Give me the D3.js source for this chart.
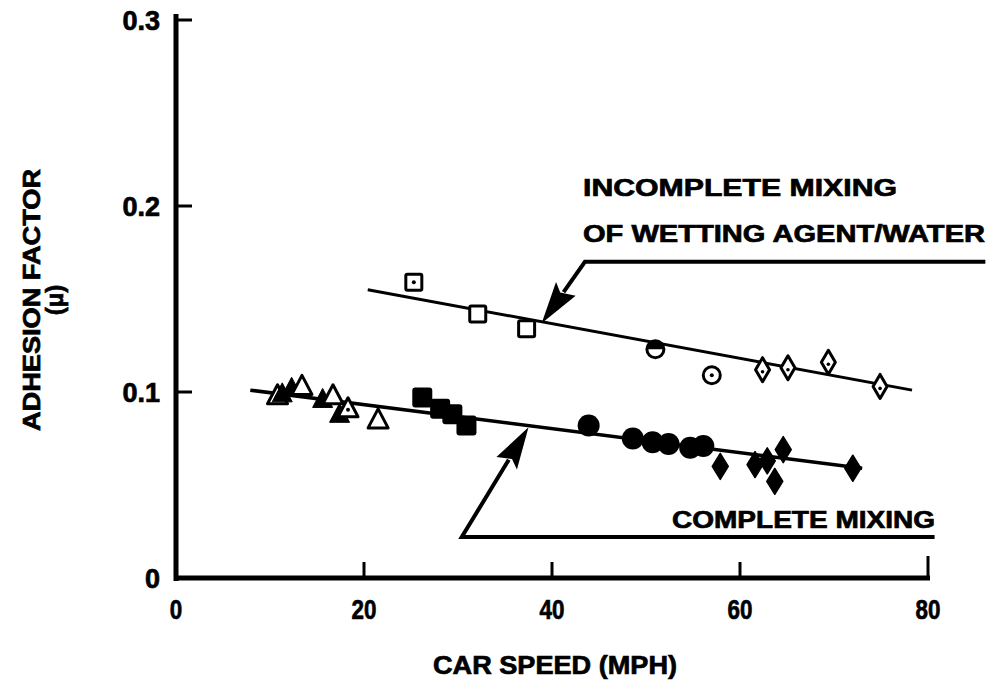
<!DOCTYPE html>
<html><head><meta charset="utf-8">
<script src="https://cdn.jsdelivr.net/npm/d3@7"></script>
<style>body{margin:0;background:#fff}svg{display:block}text{font-family:"Liberation Sans",Arial,sans-serif;font-weight:bold;fill:#000;stroke:#000;stroke-width:0.7px}</style>
</head><body><svg id="c" width="993" height="688"></svg>
<script>
// ---- data ----
const xTicks = [0, 20, 40, 60, 80];
const yTicks = [0, 0.1, 0.2, 0.3];
const yTickLabels = ["0", "0.1", "0.2", "0.3"];
// incomplete mixing (open markers)
const upperSpeed = [25.3, 32.1, 37.3, 51.0, 57.0, 62.4, 65.1, 69.4, 74.9];
const upperMu    = [0.159, 0.142, 0.134, 0.123, 0.109, 0.112, 0.113, 0.116, 0.103];
const upperShape = ["squareDot","square","square","circleHalf","circleDot","diamondDot","diamondDot","diamondDot","diamondDot"];
// complete mixing (mostly filled markers)
const lowerSpeed = [10.8, 11.3, 12.3, 13.4, 15.6, 16.7, 17.4, 18.3, 21.5, 26.2, 28.1, 29.4, 30.9, 43.9, 48.6, 50.7, 52.4, 54.7, 56.1, 57.9, 61.6, 62.9, 63.7, 64.6, 72.0];
const lowerMu    = [0.098, 0.099, 0.102, 0.103, 0.096, 0.098, 0.088, 0.091, 0.085, 0.097, 0.091, 0.088, 0.082, 0.082, 0.075, 0.073, 0.072, 0.070, 0.071, 0.060, 0.061, 0.063, 0.052, 0.069, 0.059];
const lowerShape = ["triDot","tri","tri","triOpen","tri","triOpen","tri","triDot","triOpen","sq","sq","sq","sq","circ","circ","circ","circ","circ","circ","dia","dia","dia","dia","dia","dia"];
// fitted lines
const upperFitSpeed = [20.4, 78.3], upperFitMu = [0.155, 0.101];
const lowerFitSpeed = [7.9, 73.0],  lowerFitMu = [0.101, 0.059];
// annotation leader lines
const upperLeadSpeed = [86.1, 43.5, 38.9], upperLeadMu = [0.170, 0.170, 0.137];
const lowerLeadSpeed = [80.7, 30.4, 37.5], lowerLeadMu = [0.022, 0.022, 0.081];

// ---- scales ----
const svg = d3.select("#c");
const x = d3.scaleLinear().domain([0, 80]).range([176, 928]);
const y = d3.scaleLinear().domain([0, 0.3]).range([578, 20]);

// axes
svg.append("line").attr("x1", x(0)).attr("x2", x(0)).attr("y1", 14).attr("y2", 581).attr("stroke","#000").attr("stroke-width",5);
svg.append("line").attr("x1", x(0)-2).attr("x2", x(80)+2).attr("y1", y(0)).attr("y2", y(0)).attr("stroke","#000").attr("stroke-width",5);
yTicks.slice(1).forEach(t => svg.append("line").attr("x1", x(0)).attr("x2", x(0)+16).attr("y1", y(t)).attr("y2", y(t)).attr("stroke","#000").attr("stroke-width",3));
xTicks.slice(1).forEach(t => svg.append("line").attr("x1", x(t)).attr("x2", x(t)).attr("y1", y(0)).attr("y2", y(0)-(t===80?22:16)).attr("stroke","#000").attr("stroke-width",3));
yTicks.forEach((t,i) => svg.append("text").attr("x", 160).attr("y", y(t)).attr("dy","0.36em").attr("text-anchor","end").attr("font-size",27).text(yTickLabels[i]));
xTicks.forEach(t => svg.append("text").attr("x", x(t)).attr("y", 619).attr("text-anchor","middle").attr("font-size",28).attr("transform",`translate(${x(t)},0) scale(0.8,1) translate(${-x(t)},0)`).text(t));
svg.append("text").attr("x", 555).attr("y", 674).attr("text-anchor","middle").attr("font-size",26).attr("textLength",244).attr("lengthAdjust","spacingAndGlyphs").text("CAR SPEED (MPH)");
svg.append("text").attr("transform","translate(40,300) rotate(-90)").attr("text-anchor","middle").attr("font-size",24).attr("textLength",262).attr("lengthAdjust","spacingAndGlyphs").text("ADHESION FACTOR");
svg.append("text").attr("transform","translate(63,300) rotate(-90)").attr("text-anchor","middle").attr("font-size",24).text("(μ)");

// fit lines
const line = d3.line().x(d => x(d[0])).y(d => y(d[1]));
svg.append("path").attr("d", line(d3.zip(upperFitSpeed, upperFitMu))).attr("stroke","#000").attr("stroke-width",3).attr("fill","none");
svg.append("path").attr("d", line(d3.zip(lowerFitSpeed, lowerFitMu))).attr("stroke","#000").attr("stroke-width",3.5).attr("fill","none");

// markers
function marker(shape, cx, cy) {
  const g = svg.append("g").attr("transform", `translate(${cx},${cy})`);
  const sw = 3;
  if (shape.startsWith("tri")) {
    g.append("path").attr("d","M0,-11L10,8L-10,8Z").attr("fill", shape==="tri"?"#000":"#fff").attr("stroke","#000").attr("stroke-width", shape==="tri"?1:3).attr("stroke-linejoin","round");
    if (shape==="triDot") g.append("circle").attr("r",2).attr("cy",1).attr("fill","#000");
  } else if (shape==="sq" ) {
    g.append("rect").attr("x",-10).attr("y",-10).attr("width",20).attr("height",20).attr("rx",3).attr("fill","#000");
  } else if (shape.startsWith("square")) {
    g.append("rect").attr("x",-8).attr("y",-8).attr("width",16).attr("height",16).attr("rx",1.5).attr("fill","#fff").attr("stroke","#000").attr("stroke-width",sw);
    if (shape==="squareDot") g.append("circle").attr("r",2).attr("fill","#000");
  } else if (shape==="circ") {
    g.append("circle").attr("r",11).attr("fill","#000");
  } else if (shape.startsWith("circle")) {
    g.append("circle").attr("r",8.5).attr("fill","#fff").attr("stroke","#000").attr("stroke-width",sw);
    if (shape==="circleDot") g.append("circle").attr("r",2).attr("fill","#000");
    if (shape==="circleHalf") g.append("path").attr("d","M-8.5,0A8.5,8.5 0 0 1 8.5,0Z").attr("fill","#000");
  } else if (shape==="dia") {
    g.append("path").attr("d","M0,-13L8,0L0,13L-8,0Z").attr("fill","#000").attr("stroke","#000").attr("stroke-width",1.5).attr("stroke-linejoin","round");
  } else if (shape.startsWith("diamond")) {
    g.append("path").attr("d","M0,-12L7,0L0,12L-7,0Z").attr("fill","#fff").attr("stroke","#000").attr("stroke-width",sw).attr("stroke-linejoin","round");
    g.append("circle").attr("r",1.8).attr("cy",2).attr("fill","#000");
  }
}
upperSpeed.forEach((s,i) => marker(upperShape[i], x(s), y(upperMu[i])));
lowerSpeed.forEach((s,i) => marker(lowerShape[i], x(s), y(lowerMu[i])));

// annotation leaders with arrowheads
function leader(sp, mu, sw) {
  const pts = d3.zip(sp, mu).map(d => [x(d[0]), y(d[1])]);
  const n = pts.length;
  const tip = pts[n-1], prev = pts[n-2];
  const ang = Math.atan2(tip[1]-prev[1], tip[0]-prev[0]);
  const L = 42, W = 12;
  const bx = tip[0] - L*Math.cos(ang), by = tip[1] - L*Math.sin(ang);
  const px = -Math.sin(ang)*W, py = Math.cos(ang)*W;
  const shaftEnd = [tip[0] - (L-4)*Math.cos(ang), tip[1] - (L-4)*Math.sin(ang)];
  svg.append("path").attr("d", d3.line()([...pts.slice(0,n-1), shaftEnd])).attr("stroke","#000").attr("stroke-width",sw).attr("fill","none");
  svg.append("path").attr("d", `M${tip[0]},${tip[1]}L${bx+px},${by+py}L${bx+px*0.2+ (tip[0]-bx)*0.15},${by+py*0.2+(tip[1]-by)*0.15}L${bx-px},${by-py}Z`).attr("fill","#000");
}
leader(upperLeadSpeed, upperLeadMu, 4);
leader(lowerLeadSpeed, lowerLeadMu, 4);

// labels
svg.append("text").attr("x", 583).attr("y", 196).attr("font-size",24).attr("textLength",314).attr("lengthAdjust","spacingAndGlyphs").text("INCOMPLETE MIXING");
svg.append("text").attr("x", 583).attr("y", 242).attr("font-size",24).attr("textLength",402).attr("lengthAdjust","spacingAndGlyphs").text("OF WETTING AGENT/WATER");
svg.append("text").attr("x", 672).attr("y", 528).attr("font-size",24).attr("textLength",263).attr("lengthAdjust","spacingAndGlyphs").text("COMPLETE MIXING");
</script></body></html>
